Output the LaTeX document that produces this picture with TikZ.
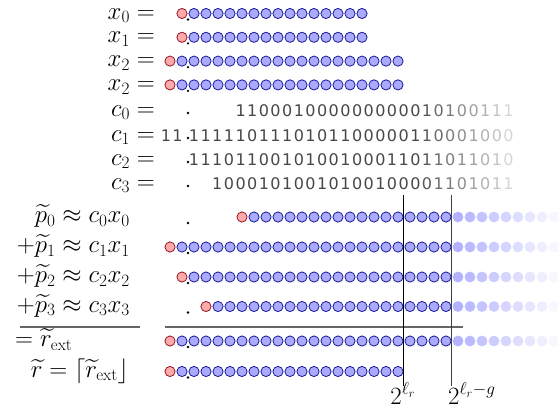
\documentclass[tikz,border=0pt]{standalone}
\usepackage{amsmath}
\usepackage{fontspec}
\newfontfamily\digfont{DejaVu Sans}
\definecolor{bfill}{RGB}{170,170,255}
\definecolor{bdraw}{RGB}{25,25,150}
\definecolor{rfill}{RGB}{255,170,170}
\definecolor{rdraw}{RGB}{150,20,35}
\tikzset{
  bc/.style={fill=bfill, draw=bdraw, line width=0.8pt},
  rc/.style={fill=rfill, draw=rdraw, line width=0.8pt},
  lab/.style={inner sep=0pt, font=\fontsize{24}{29}\selectfont},
  dig/.style={inner sep=0pt, anchor=base, font=\digfont\fontsize{16}{19}\selectfont},
  rulegray/.style={draw=black!60, line width=1.2pt},
  vline/.style={line width=0.9pt},
}
\newcommand\circrow[5]{% #1 name, #2 y, #3 red idx, #4 last blue idx, #5 fade (1/0)
  \path[rc] ({194+12*(#3)},#2) circle[radius=5.1pt];
  \pgfmathtruncatemacro\st{#3+1}
  \foreach \i in {\st,...,#4} {\path[bc] ({194+12*\i},#2) circle[radius=5.1pt];}
  \ifnum#5=1
    \foreach \i in {22,...,30} {
      \pgfmathsetmacro\op{1-(\i-21)*0.1}
      \fill[bfill, opacity=\op] ({194+12*\i},#2) circle[radius=5.4pt];}
  \fi
  \fill (188,{#2+6}) circle[radius=1.3pt];
  \coordinate (#1) at (188,#2);
}
\newcommand\digitrow[4]{% #1 name, #2 baseline y, #3 start pos, #4 list
  \foreach \d [count=\k from #3] in {#4}{
    \pgfmathtruncatemacro\sh{\k<20 ? 72 : 72-(\k-19)*7}
    \node[dig, text=black!\sh] (#1-\k) at ({194+11.65*\k},#2) {\d};
  }
  \fill (188,{#2-3}) circle[radius=1.3pt];
}
\begin{document}
\begin{tikzpicture}[x=1pt,y=-1pt]
\useasboundingbox (0,0) rectangle (558,416);
% x rows
\circrow{rx0}{13.5}{-1}{14}{0}
\circrow{rx1}{37.3}{-1}{14}{0}
\circrow{rx2}{61.1}{-2}{17}{0}
\circrow{rx3}{84.9}{-2}{17}{0}
\node[lab, anchor=base east] (lx0) at (155,19) {$x_0 =$};
\node[lab, anchor=base east] (lx1) at (155,42.8) {$x_1 =$};
\node[lab, anchor=base east] (lx2) at (155,66.6) {$x_2 =$};
\node[lab, anchor=base east] (lx3) at (155,90.4) {$x_2 =$};
% c rows
\node[lab, anchor=base east] (lc0) at (155,116) {$c_0 =$};
\node[lab, anchor=base east] (lc1) at (155,141) {$c_1 =$};
\node[lab, anchor=base east] (lc2) at (155,165) {$c_2 =$};
\node[lab, anchor=base east] (lc3) at (155,189) {$c_3 =$};
\digitrow{c0}{116}{4}{1,1,0,0,0,1,0,0,0,0,0,0,0,0,0,0,1,0,1,0,0,1,1,1}
\digitrow{c1}{141}{0}{1,1,1,1,1,0,1,1,1,0,1,0,1,1,0,0,0,0,0,1,1,0,0,0,1,0,0,0}
\node[dig, text=black!72] (c1a) at (166,141) {1};
\node[dig, text=black!72] (c1b) at (177.5,141) {1};
\digitrow{c2}{165}{0}{1,1,1,0,1,1,0,0,1,0,1,0,0,1,0,0,0,1,1,0,1,1,0,1,1,0,1,0}
\digitrow{c3}{189}{2}{1,0,0,0,1,0,1,0,0,1,0,1,0,0,1,0,0,0,0,1,1,0,1,0,1,1}
% partial products
\circrow{rp0}{217}{4}{21}{1}
\circrow{rp1}{247}{-2}{21}{1}
\circrow{rp2}{277}{-1}{21}{1}
\circrow{rp3}{306.5}{1}{21}{1}
\node[lab, anchor=base east] (lp0) at (130,222.5) {$\widetilde{p}_0 \approx c_0x_0$};
\node[lab, anchor=base east] (lp1) at (130,252.5) {$+\widetilde{p}_1 \approx c_1x_1$};
\node[lab, anchor=base east] (lp2) at (130,282.5) {$+\widetilde{p}_2 \approx c_2x_2$};
\node[lab, anchor=base east] (lp3) at (130,312) {$+\widetilde{p}_3 \approx c_3x_3$};
% rules
\coordinate (ra) at (20,327); \coordinate (rb) at (140,327);
\coordinate (rc) at (165,327); \coordinate (rd) at (463,327);
\draw[rulegray] (ra) -- (rb);
\draw[rulegray] (rc) -- (rd);
% results
\circrow{rr0}{341}{-2}{21}{1}
\circrow{rr1}{371.5}{-2}{17}{0}
\node[lab, anchor=base west] (lr0) at (15,346.5) {$=\widetilde{r}_{\mathrm{ext}}$};
\node[lab, anchor=base east] (lr1) at (129,377) {$\widetilde{r} = \lceil\widetilde{r}_{\mathrm{ext}}\rfloor$};
% vertical lines
\coordinate (v1t) at (403.5,195); \coordinate (v1b) at (403.5,386);
\coordinate (v2t) at (451,195); \coordinate (v2b) at (451,386);
\draw[vline] (v1t) -- (v1b);
\draw[vline, black!75] (v2t) -- (v2b);
\node[lab, anchor=base] (e1) at (403,404) {$2^{\ell_r}$};
\node[lab, anchor=base west] (e2) at (448,404) {$2^{\ell_r-g}$};
\end{tikzpicture}
\end{document}
